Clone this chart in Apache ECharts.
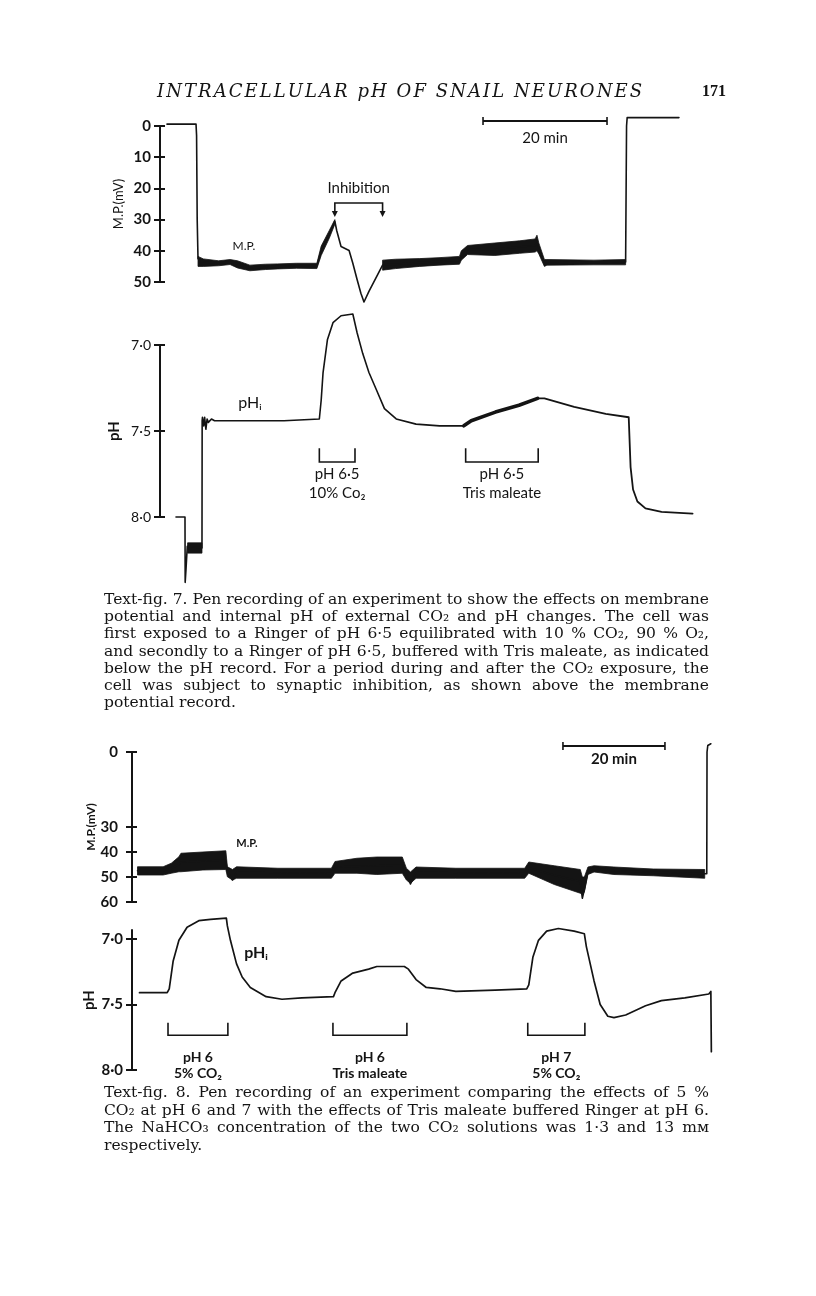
<!DOCTYPE html>
<html><head><meta charset="utf-8">
<script src="https://cdn.jsdelivr.net/npm/echarts@6/dist/echarts.min.js"></script>
<style>html,body{margin:0;padding:0;background:#fff}#c{width:816px;height:1296px}</style>
</head><body><div id="c"></div>
<script>
// ---------------- DATA ----------------
// Time axis in minutes (20 min scale bars)
const fig7MpTicks = [0, 10, 20, 30, 40, 50];          // mV
const fig7PhTicks = [7.0, 7.5, 8.0];
const fig8MpTicks = [0, 30, 40, 50, 60];
const fig8PhTicks = [7.0, 7.5, 8.0];

// Fig 7 membrane potential: pen trace [min, mV]
const fig7MpLine = [[1.13,-0.6],[5.81,-0.6],[5.9,3],[6.0,30],[6.13,42.5],[6.5,43.5],[9.45,44],[11.3,43.6],[12.5,44.2],[14.5,45.5],[19,45],[22,44.8],[25.3,44.8],[26.0,40],[27.3,34.7],[28.2,30.5],[28.5,33.5],[29.2,38.6],[30.5,39.9],[31.1,44],[31.8,49.3],[32.4,53.6],[32.9,56.4],[33.7,53],[35.0,48],[35.9,44.6],[41.9,43.8],[48.3,43],[48.6,41.5],[49.6,39.7],[54,39.5],[60.5,38.3],[60.8,37.5],[61.1,39.2],[62.0,43.9],[70,43.7],[75.1,43.6],[75.25,0],[75.35,-2.7],[83.7,-2.7]];
// Fig 7 membrane potential noise envelopes [min, upper mV, lower mV]
const fig7MpBandA = [[6.13,41.8,45.0],[7.0,42.6,45.0],[9.45,43.2,44.8],[11.3,42.8,44.4],[12.5,43.2,45.5],[14.5,44.6,46.4],[17,44.3,46.0],[19.0,44.2,45.8],[22,44.0,45.6],[25.3,44.0,45.7],[26.0,38.5,41.5],[27.3,33.5,36.0],[28.2,30.0,31.5]];
const fig7MpBandB = [[35.9,43.0,46.2],[38,42.7,45.7],[41.9,42.5,45.0],[45,42.2,44.6],[48.3,41.8,44.3],[48.6,40.0,43.0],[49.6,38.3,41.2],[54.0,37.5,41.5],[58,36.8,40.8],[60.5,36.2,40.4],[60.8,35.0,40.0],[61.1,37.5,41.0],[62.0,42.8,45.0],[62.4,42.8,44.6],[70,43.0,44.5],[75.1,42.8,44.5]];
// Fig 7 intracellular pH trace [min, pH]
const fig7PhLine = [[2.58,8.0],[4.03,8.0],[4.06,8.38],[4.2,8.3],[4.4,8.17],[6.77,8.18],[6.8,7.44],[6.85,7.42],[7.05,7.47],[7.2,7.42],[7.4,7.49],[7.6,7.43],[7.8,7.45],[8.3,7.43],[8.8,7.44],[15,7.44],[20,7.44],[25.7,7.43],[26.0,7.32],[26.3,7.16],[27.0,6.97],[27.9,6.87],[29.2,6.83],[31.1,6.82],[31.8,6.93],[32.7,7.05],[33.7,7.16],[34.9,7.26],[36.2,7.37],[38.1,7.43],[41.3,7.46],[45.1,7.47],[49.0,7.47]];
const fig7PhTris = [[49.0,7.47],[50.2,7.44],[54.1,7.39],[57.9,7.35],[60.9,7.31]];
const fig7PhLine2 = [[60.9,7.31],[62.0,7.31],[66.8,7.36],[71.9,7.40],[75.6,7.42],[75.9,7.71],[76.3,7.84],[77.0,7.91],[78.3,7.95],[80.9,7.97],[85.9,7.98]];
const fig7PhBand = [[4.45,8.15,8.21],[6.77,8.15,8.21]];
const fig7Inhibition = [[28.2, 35.9]];
const fig7Periods = [[25.7, 31.45], [49.3, 61.0]];
const fig7PeriodLabels = [['pH 6·5', '10% Co₂'], ['pH 6·5', 'Tris maleate']];
const fig7ScaleBar = [[52.1, 72.1]];

// Fig 8 membrane potential
const fig8MpLine = [[1.08,47.5],[6.1,47.5],[7.7,46.5],[9.2,45],[9.6,44],[18.4,43.3],[18.7,47.8],[19.7,51.2],[20.5,48.2],[39.1,48.5],[39.8,46],[53.0,45.2],[53.8,49],[54.6,52.8],[55.7,48.2],[77.0,48.5],[77.8,46.3],[82.8,49.3],[87.9,51.8],[88.3,58.5],[88.7,55],[89.4,47.5],[90.6,46.5],[94.5,47.5],[102.2,48.1],[112.3,48.7],[112.7,48.7],[112.75,0],[112.9,-2.6],[113.5,-3.3]];
const fig8MpBand = [[1.08,45.9,49.2],[6.1,45.9,49.2],[7.7,44.5,48.5],[9.2,41.9,47.9],[9.6,40.5,47.9],[13.9,40.0,47.2],[18.4,39.5,47.0],[18.7,45.9,49.9],[19.7,47.0,51.2],[20.5,45.9,50.5],[28.6,46.5,50.5],[39.1,46.5,50.5],[39.8,43.8,48.5],[44.1,42.5,48.5],[48.0,42.0,49.0],[53.0,42.0,48.5],[53.8,46.5,51.2],[54.6,48.0,52.5],[55.7,46.0,50.5],[63.5,46.5,50.5],[77.0,46.5,50.5],[77.8,44.0,48.5],[82.8,45.5,53.0],[87.9,47.0,56.5],[88.3,50,57],[88.7,50,56],[89.4,46.0,49.0],[90.6,45.5,48.0],[94.5,46.0,49.0],[102.2,46.8,49.5],[112.3,47.0,50.5]];
// Fig 8 intracellular pH
const fig8PhLine = [[1.47,7.41],[6.9,7.41],[7.3,7.38],[8.06,7.17],[9.2,7.01],[10.8,6.91],[13.1,6.86],[15.4,6.85],[18.5,6.84],[18.7,6.9],[19.3,7.01],[20.5,7.19],[21.6,7.29],[23.2,7.37],[26.3,7.44],[29.4,7.46],[33.3,7.45],[39.5,7.44],[39.8,7.41],[41.0,7.32],[43.3,7.26],[46.4,7.23],[48.0,7.21],[53.4,7.21],[54.2,7.23],[55.7,7.31],[57.7,7.37],[60.4,7.38],[63.5,7.40],[71.2,7.39],[77.4,7.38],[77.8,7.35],[78.6,7.14],[79.7,7.01],[81.3,6.94],[83.6,6.92],[86.7,6.94],[88.7,6.96],[89.1,7.06],[90.6,7.32],[91.8,7.50],[93.3,7.59],[94.5,7.60],[96.8,7.58],[100.7,7.51],[103.8,7.47],[108.4,7.45],[113.1,7.42],[113.5,7.40],[113.6,7.86]];
const fig8Periods = [[7.06, 18.8], [39.4, 53.9], [77.6, 88.8]];
const fig8PeriodLabels = [['pH 6', '5% CO₂'], ['pH 6', 'Tris maleate'], ['pH 7', '5% CO₂']];
const fig8ScaleBar = [[84.5, 104.5]];

const headerText = 'INTRACELLULAR pH OF SNAIL NEURONES';
const pageNumber = '171';
const fig7Caption = [
  'Text-fig. 7. Pen recording of an experiment to show the effects on membrane',
  'potential and internal pH of external CO₂ and pH changes. The cell was',
  'first exposed to a Ringer of pH 6·5 equilibrated with 10 % CO₂, 90 % O₂,',
  'and secondly to a Ringer of pH 6·5, buffered with Tris maleate, as indicated',
  'below the pH record. For a period during and after the CO₂ exposure, the',
  'cell was subject to synaptic inhibition, as shown above the membrane',
  'potential record.'];
const fig8Caption = [
  'Text-fig. 8. Pen recording of an experiment comparing the effects of 5 %',
  'CO₂ at pH 6 and 7 with the effects of Tris maleate buffered Ringer at pH 6.',
  'The NaHCO₃ concentration of the two CO₂ solutions was 1·3 and 13 mᴍ',
  'respectively.'];

// ---------------- RENDER ----------------
const ink = '#141414';
const SANS = 'Lato, "DejaVu Sans", sans-serif';
const SERIF = '"DejaVu Serif", serif';
const ctx = document.createElement('canvas').getContext('2d');
const dot = v => v.toFixed(1).replace('.', '·');

function txt(text, x, y, font, align) {
  return {type:'text', x:x, y:y, silent:true,
    style:{text:text, font:font, fill:ink, align:align||'center', verticalAlign:'middle',
           textAlign:align||'center', textVerticalAlign:'middle'}};
}
function lineS(xi, yi, data, w) {
  return {type:'line', xAxisIndex:xi, yAxisIndex:yi, data:data, showSymbol:false, symbol:'none',
    clip:false, silent:true, z:4, lineStyle:{color:ink, width:w, cap:'round', join:'round'}};
}
function bandS(xi, yi, bands) {
  return {type:'custom', xAxisIndex:xi, yAxisIndex:yi, clip:false, silent:true, z:3,
    data: bands.map(b => [b[0][0], b[0][1]]),
    renderItem: function (params, api) {
      const b = bands[params.dataIndex];
      const pts = b.map(p => api.coord([p[0], p[1]]))
        .concat(b.slice().reverse().map(p => api.coord([p[0], p[2]])));
      return {type:'polygon', shape:{points:pts}, style:{fill:ink, stroke:ink, lineWidth:0.8}};
    }};
}
function periodS(xi, yi, periods, labels, vTop, vBot, font, off1, off2) {
  return {type:'custom', xAxisIndex:xi, yAxisIndex:yi, clip:false, silent:true, z:5,
    data: periods.map(p => [p[0], p[1]]),
    renderItem: function (params, api) {
      const i = params.dataIndex;
      const a = api.coord([api.value(0), vTop]);
      const b = api.coord([api.value(1), vBot]);
      const cx = (a[0] + b[0]) / 2;
      return {type:'group', children:[
        {type:'polyline', shape:{points:[[a[0],a[1]],[a[0],b[1]],[b[0],b[1]],[b[0],a[1]]]},
         style:{stroke:ink, lineWidth:1.6, fill:null}},
        txt(labels[i][0], cx, b[1] + off1, font),
        txt(labels[i][1], cx, b[1] + off2, font)
      ]};
    }};
}
function inhibS(xi, yi, spans, vTop, vTip, label, font) {
  return {type:'custom', xAxisIndex:xi, yAxisIndex:yi, clip:false, silent:true, z:5,
    data: spans.map(p => [p[0], p[1]]),
    renderItem: function (params, api) {
      const a = api.coord([api.value(0), vTop]);
      const b = api.coord([api.value(1), vTip]);
      const cx = (a[0] + b[0]) / 2;
      const arrow = x => ({type:'polygon', shape:{points:[[x-3,b[1]-6],[x+3,b[1]-6],[x,b[1]]]}, style:{fill:ink}});
      return {type:'group', children:[
        {type:'polyline', shape:{points:[[a[0],b[1]-5],[a[0],a[1]],[b[0],a[1]],[b[0],b[1]-5]]},
         style:{stroke:ink, lineWidth:1.6, fill:null}},
        arrow(a[0]), arrow(b[0]),
        txt(label, cx, a[1] - 15, font)
      ]};
    }};
}
function scaleS(xi, yi, spans, v, label, font, off) {
  return {type:'custom', xAxisIndex:xi, yAxisIndex:yi, clip:false, silent:true, z:5,
    data: spans.map(p => [p[0], p[1]]),
    renderItem: function (params, api) {
      const a = api.coord([api.value(0), v]);
      const b = api.coord([api.value(1), v]);
      return {type:'group', children:[
        {type:'line', shape:{x1:a[0], y1:a[1], x2:b[0], y2:b[1]}, style:{stroke:ink, lineWidth:1.8}},
        {type:'line', shape:{x1:a[0], y1:a[1]-4, x2:a[0], y2:a[1]+4}, style:{stroke:ink, lineWidth:1.6}},
        {type:'line', shape:{x1:b[0], y1:b[1]-4, x2:b[0], y2:b[1]+4}, style:{stroke:ink, lineWidth:1.6}},
        txt(label, (a[0]+b[0])/2, a[1] + off, font)
      ]};
    }};
}
function yAxes(gi, min, max, ticks, fmt, labFont, margin, name, nameFont, nameGap) {
  const lf = labFont.split('|');
  const main = {type:'value', gridIndex:gi, inverse:true, min:min, max:max, position:'left',
    axisLine:{show:true, onZero:false, lineStyle:{color:ink, width:2}},
    axisTick:{show:true, length:6, customValues:ticks, lineStyle:{color:ink, width:2}},
    axisLabel:{show:true, customValues:ticks, formatter:fmt, margin:margin, color:ink,
      fontFamily:SANS, fontWeight:lf[0], fontSize:+lf[1]},
    splitLine:{show:false},
    name:name, nameLocation:'middle', nameGap:nameGap, nameRotate:90, nameMoveOverlap:false,
    nameTextStyle:{color:ink, fontFamily:SANS, fontWeight:nameFont[0], fontSize:nameFont[1]}};
  const inner = {type:'value', gridIndex:gi, inverse:true, min:min, max:max, position:'left', offset:0,
    axisLine:{show:false}, axisTick:{show:true, inside:true, length:5, customValues:ticks, lineStyle:{color:ink, width:2}},
    axisLabel:{show:false}, splitLine:{show:false}};
  return [main, inner];
}

// graphic text: header spread, captions justified
function spread(str, font, x0, x1, y) {
  ctx.font = font;
  const chars = [...str];
  const w = chars.map(c => ctx.measureText(c).width);
  const total = w.reduce((s, v) => s + v, 0);
  const gap = (x1 - x0 - total) / (chars.length - 1);
  const out = []; let x = x0;
  chars.forEach((c, i) => { if (c !== ' ') out.push(txt(c, x, y, font, 'left')); x += w[i] + gap; });
  return out;
}
function fitSize(allLines, family, base, width) {
  ctx.font = base + 'px ' + family;
  let maxW = 0;
  allLines.forEach(lines => lines.slice(0, -1).forEach(l => { maxW = Math.max(maxW, ctx.measureText(l).width); }));
  return base * width / maxW;
}
function justify(lines, family, size, x0, x1, y0, dy) {
  const font = size.toFixed(2) + 'px ' + family;
  ctx.font = font;
  const out = [];
  lines.forEach((ln, k) => {
    const y = y0 + k * dy;
    const words = ln.split(' ');
    const ws = words.map(w => ctx.measureText(w).width);
    const last = k === lines.length - 1;
    const gap = last ? ctx.measureText(' ').width : (x1 - x0 - ws.reduce((s, v) => s + v, 0)) / (words.length - 1);
    let x = x0;
    words.forEach((w, i) => { out.push(txt(w, x, y, font, 'left')); x += ws[i] + gap; });
  });
  return out;
}

const capSize = Math.min(16, fitSize([fig7Caption, fig8Caption], SERIF, 14, 605));
const graphics = []
  .concat(spread(headerText, 'italic 18px ' + SERIF, 157, 642, 92))
  .concat([txt(pageNumber, 702, 92, 'bold 16px "Liberation Serif", serif', 'left')])
  .concat(justify(fig7Caption, SERIF, capSize, 104, 709, 600, 17.2))
  .concat(justify(fig8Caption, SERIF, capSize, 104, 709, 1093, 17.5))
  .concat([
    txt('M.P.', 244, 246, '12px ' + SANS),
    txt('pHᵢ', 250, 403, '16px ' + SANS),
    txt('M.P.', 247, 843, 'bold 11px ' + SANS),
    txt('pHᵢ', 256, 953, 'bold 16px ' + SANS)
  ]);

const X7 = 6.2, X8 = 5.1;
const option = {
  animation:false,
  backgroundColor:'#ffffff',
  grid:[
    {left:160, top:126, width:540, height:156, containLabel:false, outerBoundsMode:'none'},
    {left:160, top:345, width:540, height:172, containLabel:false, outerBoundsMode:'none'},
    {left:132, top:752, width:600, height:150, containLabel:false, outerBoundsMode:'none'},
    {left:132, top:930, width:600, height:140, containLabel:false, outerBoundsMode:'none'}
  ],
  xAxis:[
    {type:'value', gridIndex:0, min:0, max:540/X7, show:false},
    {type:'value', gridIndex:1, min:0, max:540/X7, show:false},
    {type:'value', gridIndex:2, min:0, max:600/X8, show:false},
    {type:'value', gridIndex:3, min:0, max:600/X8, show:false}
  ],
  yAxis:[]
    .concat(yAxes(0, 0, 50, fig7MpTicks, v => String(v), 'bold|15', 9, 'M.P.(mV)', ['normal', 13], 35))
    .concat(yAxes(1, 7, 8, fig7PhTicks, v => dot(v), 'normal|14', 9, 'pH', ['bold', 15], 38))
    .concat(yAxes(2, 0, 60, fig8MpTicks, v => String(v), 'bold|15', 14, 'M.P.(mV)', ['bold', 12], 35))
    .concat(yAxes(3, 8 - 140/131, 8, fig8PhTicks, v => dot(v), 'bold|15', 9, 'pH', ['bold', 15], 35)),
  series:[
    bandS(0, 0, [fig7MpBandA, fig7MpBandB]),
    lineS(0, 0, fig7MpLine, 1.6),
    inhibS(0, 0, fig7Inhibition, 24.7, 29.2, 'Inhibition', '15px ' + SANS),
    scaleS(0, 0, fig7ScaleBar, -1.6, '20 min', '15px ' + SANS, 17),
    bandS(1, 2, [fig7PhBand]),
    lineS(1, 2, fig7PhLine, 1.6),
    lineS(1, 2, fig7PhTris, 3.6),
    lineS(1, 2, fig7PhLine2, 1.8),
    periodS(1, 2, fig7Periods, fig7PeriodLabels, 7.60, 7.68, '15px ' + SANS, 12, 31),
    bandS(2, 4, [fig8MpBand]),
    lineS(2, 4, fig8MpLine, 1.6),
    scaleS(2, 4, fig8ScaleBar, -2.4, '20 min', 'bold 15px ' + SANS, 13),
    lineS(3, 6, fig8PhLine, 1.7),
    periodS(3, 6, fig8Periods, fig8PeriodLabels, 7.64, 7.735, 'bold 14px ' + SANS, 22, 38)
  ],
  graphic:{elements:graphics}
};
const chart = echarts.init(document.getElementById('c'), null, {renderer:'canvas'});
chart.setOption(option);
</script>
</body></html>
